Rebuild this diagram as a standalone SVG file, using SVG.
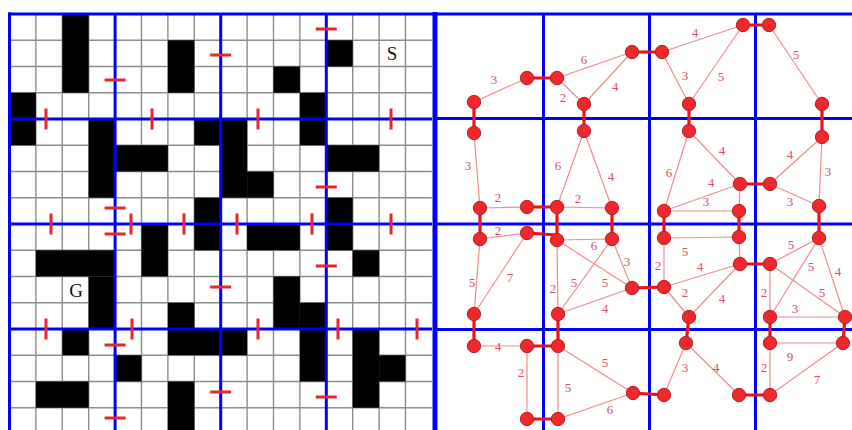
<svg xmlns="http://www.w3.org/2000/svg" width="852" height="430" viewBox="0 0 852 430">
<style>
.g{stroke:#8c8c8c;stroke-width:1.4}
.b{stroke:#0000ff;stroke-width:3}
.d{stroke:#e6262a;stroke-width:3}
.t{stroke:#f08c8c;stroke-width:1.2;fill:none}
.k{stroke:#e8141a;stroke-width:3.2}
.n{fill:#f0282c;stroke:#b02428;stroke-width:1}
.l{font-family:"Liberation Serif",serif;font-size:13px;fill:#d4506a;text-anchor:middle}
.s{font-family:"Liberation Serif",serif;font-size:19px;fill:#111;text-anchor:middle}
</style>
<rect width="852" height="430" fill="#fff"/>
<g id="maze">
<g class="g">
<path d="M35.9 14V430M62.3 14V430M88.7 14V430M141.5 14V430M167.9 14V430M194.3 14V430M247.1 14V430M273.5 14V430M299.9 14V430M352.7 14V430M379.1 14V430M405.5 14V430"/>
<path d="M9.5 40.25H432M9.5 66.5H432M9.5 92.75H432M9.5 145.25H432M9.5 171.5H432M9.5 197.75H432M9.5 250.25H432M9.5 276.5H432M9.5 302.75H432M9.5 355.25H432M9.5 381.5H432M9.5 407.75H432"/>
</g>
<g transform="translate(9.5,14) scale(26.4,26.25)" fill="#000">
<rect x="2" y="0" width="1" height="3"/>
<rect x="6" y="1" width="1" height="2"/>
<rect x="0" y="3" width="1" height="2"/>
<rect x="3" y="4" width="1" height="3"/>
<rect x="4" y="5" width="2" height="1"/>
<rect x="7" y="4" width="1" height="1"/>
<rect x="8" y="4" width="1" height="3"/>
<rect x="9" y="6" width="1" height="1"/>
<rect x="7" y="7" width="1" height="2"/>
<rect x="10" y="2" width="1" height="1"/>
<rect x="11" y="3" width="1" height="2"/>
<rect x="12" y="1" width="1" height="1"/>
<rect x="12" y="5" width="2" height="1"/>
<rect x="12" y="7" width="1" height="2"/>
<rect x="5" y="8" width="1" height="2"/>
<rect x="1" y="9" width="3" height="1"/>
<rect x="3" y="10" width="1" height="2"/>
<rect x="6" y="11" width="1" height="1"/>
<rect x="2" y="12" width="1" height="1"/>
<rect x="6" y="12" width="3" height="1"/>
<rect x="4" y="13" width="1" height="1"/>
<rect x="1" y="14" width="2" height="1"/>
<rect x="6" y="14" width="1" height="2"/>
<rect x="9" y="8" width="2" height="1"/>
<rect x="13" y="9" width="1" height="1"/>
<rect x="10" y="10" width="1" height="2"/>
<rect x="11" y="11" width="1" height="1"/>
<rect x="11" y="12" width="1" height="2"/>
<rect x="13" y="12" width="1" height="3"/>
<rect x="14" y="13" width="1" height="1"/>
</g>
<g class="b">
<path d="M9.5 12.5V430M115.1 14V430M220.7 14V430M326.3 14V430"/>
<path d="M8 14H436M9.5 119H432M9.5 224H432M9.5 329H432"/>
</g>
<g class="d">
<path d="M104.6 80h21M104.6 208h21M104.6 234h21M104.6 345h21M104.6 418h21"/>
<path d="M210.2 55h21M210.2 287h21M210.2 392h21"/>
<path d="M315.8 29h21M315.8 187h21M315.8 266h21M315.8 397h21"/>
<path d="M46 108.5v21M152 108.5v21M258 108.5v21M391 108.5v21"/>
<path d="M51 213.5v21M131 213.5v21M184 213.5v21M237 213.5v21M312 213.5v21M391 213.5v21"/>
<path d="M46 318.5v21M132 318.5v21M258 318.5v21M338 318.5v21M417 318.5v21"/>
</g>
<text class="s" x="392" y="60">S</text>
<text class="s" x="76" y="297">G</text>
</g>
<g id="panel" class="b">
<path d="M435 12V430" stroke-width="5"/>
<path d="M436 14H852M436 118.5H852M436 224H852M436 329.5H852"/>
<path d="M543.5 14V430M649.5 14V430M755.5 14V430"/>
</g>
<g id="connectors">
<g class="t">
<path d="M474 102L527 78M557 78L632 52M557 78L584 104M584 104L632 52M474 133L480 208M480 208L527 207M557 207L584 131M557 207L612 208M584 131L612 208"/>
<path d="M662 52L743 25M662 52L689 104M743 25L689 104M769 25L822 104M689 131L740 184M689 131L664 211M664 211L740 184M664 211L739 211M739 211L740 184M770 184L822 137M822 137L819 206M770 184L819 206"/>
<path d="M480 239L527 233M557 240L612 239M480 239L474 314M527 233L474 314M557 240L558 314M612 239L558 314M557 240L632 288M612 239L632 288M558 314L632 288"/>
<path d="M474 346L527 346M527 346L527 419M558 346L558 419M558 346L633 393M558 419L633 393"/>
<path d="M664 238L739 237M664 238L664 287M664 287L740 264M739 237L740 264M770 264L819 238M819 238L770 317M819 238L845 317M770 264L770 317M770 264L845 317M770 317L845 317M664 287L689 317M740 264L689 317"/>
<path d="M770 343L843 343M686 343L664 395M686 343L739 395M770 343L770 395M843 343L770 395"/>
</g>
<g class="k">
<path d="M527 78L557 78M584 104L584 131M474 102L474 133M632 52L662 52M743 25L769 25M689 104L689 131M822 104L822 137"/>
<path d="M527 207L557 207M557 207L557 240M527 233L557 235M480 208L480 239M612 208L612 239M740 184L770 184M664 211L664 238M739 211L739 237M819 206L819 238"/>
<path d="M474 314L474 346M527 346L558 346M558 314L558 346M527 419L558 419M632 288L664 287M740 264L770 264M689 317L686 343M770 317L770 343M845 317L843 343M633 393L664 395M739 395L770 395"/>
</g>
</g>
<g id="nodes" class="n">
<circle cx="474" cy="102" r="6.7"/><circle cx="527" cy="78" r="6.7"/><circle cx="557" cy="78" r="6.7"/><circle cx="584" cy="104" r="6.7"/>
<circle cx="632" cy="52" r="6.7"/><circle cx="662" cy="52" r="6.7"/><circle cx="743" cy="25" r="6.7"/><circle cx="769" cy="25" r="6.7"/>
<circle cx="474" cy="133" r="6.7"/><circle cx="584" cy="131" r="6.7"/><circle cx="689" cy="104" r="6.7"/><circle cx="689" cy="131" r="6.7"/>
<circle cx="822" cy="104" r="6.7"/><circle cx="822" cy="137" r="6.7"/><circle cx="480" cy="208" r="6.7"/><circle cx="527" cy="207" r="6.7"/>
<circle cx="557" cy="207" r="6.7"/><circle cx="612" cy="208" r="6.7"/><circle cx="664" cy="211" r="6.7"/><circle cx="739" cy="211" r="6.7"/>
<circle cx="740" cy="184" r="6.7"/><circle cx="770" cy="184" r="6.7"/><circle cx="819" cy="206" r="6.7"/><circle cx="480" cy="239" r="6.7"/>
<circle cx="527" cy="233" r="6.7"/><circle cx="557" cy="240" r="6.7"/><circle cx="612" cy="239" r="6.7"/><circle cx="664" cy="238" r="6.7"/>
<circle cx="739" cy="237" r="6.7"/><circle cx="819" cy="238" r="6.7"/><circle cx="632" cy="288" r="6.7"/><circle cx="664" cy="287" r="6.7"/>
<circle cx="740" cy="264" r="6.7"/><circle cx="770" cy="264" r="6.7"/><circle cx="474" cy="314" r="6.7"/><circle cx="558" cy="314" r="6.7"/>
<circle cx="689" cy="317" r="6.7"/><circle cx="770" cy="317" r="6.7"/><circle cx="845" cy="317" r="6.7"/><circle cx="474" cy="346" r="6.7"/>
<circle cx="527" cy="346" r="6.7"/><circle cx="558" cy="346" r="6.7"/><circle cx="686" cy="343" r="6.7"/><circle cx="770" cy="343" r="6.7"/>
<circle cx="843" cy="343" r="6.7"/><circle cx="633" cy="393" r="6.7"/><circle cx="664" cy="395" r="6.7"/><circle cx="527" cy="419" r="6.7"/>
<circle cx="558" cy="419" r="6.7"/><circle cx="739" cy="395" r="6.7"/><circle cx="770" cy="395" r="6.7"/>
</g>
<g id="labels" class="l">
<text x="494" y="84">3</text><text x="584" y="64">6</text><text x="563" y="102">2</text><text x="615" y="91">4</text>
<text x="468" y="170">3</text><text x="498" y="202">2</text><text x="558" y="170">6</text><text x="578" y="203">2</text><text x="611" y="181">4</text>
<text x="695" y="37">4</text><text x="685" y="80">3</text><text x="721" y="81">5</text><text x="796" y="59">5</text>
<text x="722" y="155">4</text><text x="669" y="177">6</text><text x="711" y="187">4</text><text x="706" y="206">3</text>
<text x="790" y="159">4</text><text x="828" y="176">3</text><text x="790" y="206">3</text>
<text x="498" y="235">2</text><text x="594" y="250">6</text><text x="472" y="287">5</text><text x="510" y="282">7</text>
<text x="553" y="293">2</text><text x="574" y="287">5</text><text x="605" y="287">5</text><text x="627" y="266">3</text><text x="605" y="313">4</text>
<text x="498" y="351">4</text><text x="521" y="377">2</text><text x="568" y="392">5</text><text x="605" y="367">5</text><text x="610" y="414">6</text>
<text x="685" y="256">5</text><text x="658" y="270">2</text><text x="700" y="271">4</text>
<text x="791" y="249">5</text><text x="811" y="271">5</text><text x="838" y="276">4</text><text x="764" y="297">2</text><text x="822" y="297">5</text><text x="795" y="313">3</text>
<text x="685" y="297">2</text><text x="722" y="303">4</text>
<text x="790" y="361">9</text><text x="685" y="372">3</text><text x="716" y="372">4</text><text x="764" y="372">2</text><text x="817" y="384">7</text>
</g>
</svg>
